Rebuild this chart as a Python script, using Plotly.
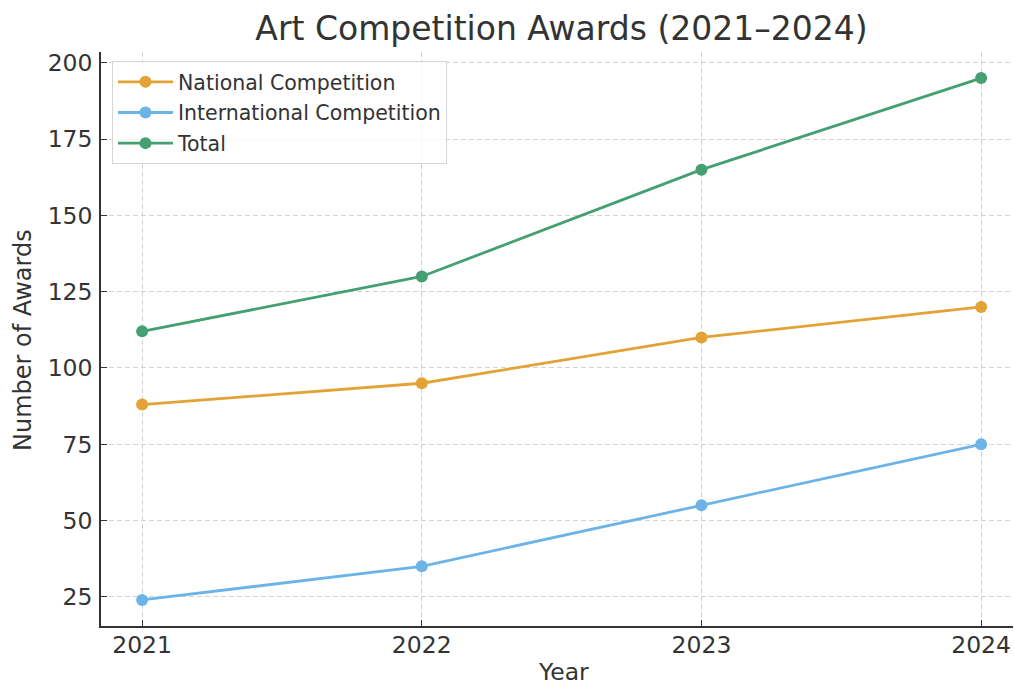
import plotly.graph_objects as go

years = [2021, 2022, 2023, 2024]
national = [88, 95, 110, 120]
international = [24, 35, 55, 75]
total = [112, 130, 165, 195]
y_ticks = [25, 50, 75, 100, 125, 150, 175, 200]

series = [
    ("National Competition", national, "#E2A235"),
    ("International Competition", international, "#6CB4E8"),
    ("Total", total, "#44A072"),
]

FONT = "DejaVu Sans"
TXT = "#333333"

fig = go.Figure()
for i, (name, vals, col) in enumerate(series):
    fig.add_trace(go.Scatter(
        x=years, y=vals, name=name, mode="lines+markers",
        line=dict(color=col, width=2.8),
        marker=dict(color=col, size=12),
        legendgroup=f"g{i}",
    ))

W, H = 1014, 688
L, R, T, B = 101, 1013, 52, 626

def px_x(p):
    return (p - L) / (R - L)

def px_y(p):
    return (B - p) / (B - T)

fig.update_layout(
    width=W, height=H,
    margin=dict(l=L, r=W - R, t=T, b=H - B, autoexpand=False),
    plot_bgcolor="white", paper_bgcolor="white",
    font=dict(family=FONT, color=TXT, size=22),
    showlegend=True,
    title=dict(text="Art Competition Awards (2021–2024)",
               x=561.5 / W, xanchor="center",
               y=1 - 28 / H, yanchor="middle", yref="container",
               font=dict(size=33, color=TXT, family=FONT)),
    legend=dict(
        x=px_x(112), y=px_y(61), xanchor="left", yanchor="top",
        bgcolor="rgba(255,255,255,0.8)", bordercolor="#d5d5d5", borderwidth=1,
        font=dict(size=20.5, color=TXT, family=FONT),
        tracegroupgap=1, itemwidth=55,
    ),
    xaxis=dict(
        range=[2020.853, 2024.114], tickvals=years, ticktext=[str(y) for y in years],
        showline=True, linecolor="#333333", linewidth=1.6,
        ticks="inside", ticklen=6, tickwidth=1.2, tickcolor="#333333",
        showgrid=True, gridcolor="#d3d3d3", griddash="5px,3px", gridwidth=1,
        zeroline=False, tickfont=dict(size=23.5, color=TXT, family=FONT),
        ticklabelstandoff=-3,
    ),
    yaxis=dict(
        range=[15.45, 203.55], tickvals=y_ticks,
        showline=True, linecolor="#333333", linewidth=1.6,
        ticks="inside", ticklen=6, tickwidth=1.2, tickcolor="#333333",
        showgrid=True, gridcolor="#d3d3d3", griddash="5px,3px", gridwidth=1,
        zeroline=False, tickfont=dict(size=23.5, color=TXT, family=FONT),
        ticklabelstandoff=2,
    ),
    annotations=[
        dict(text="Year", x=px_x(563), y=px_y(687), xref="paper", yref="paper",
             showarrow=False, font=dict(size=23.5, color=TXT, family=FONT),
             xanchor="center", yanchor="bottom", borderpad=0),
        dict(text="Number of Awards", x=px_x(23), y=px_y(340), xref="paper", yref="paper",
             showarrow=False, textangle=-90, font=dict(size=24, color=TXT, family=FONT),
             xanchor="center", yanchor="middle"),
    ],
)

fig.write_html("out.html")
